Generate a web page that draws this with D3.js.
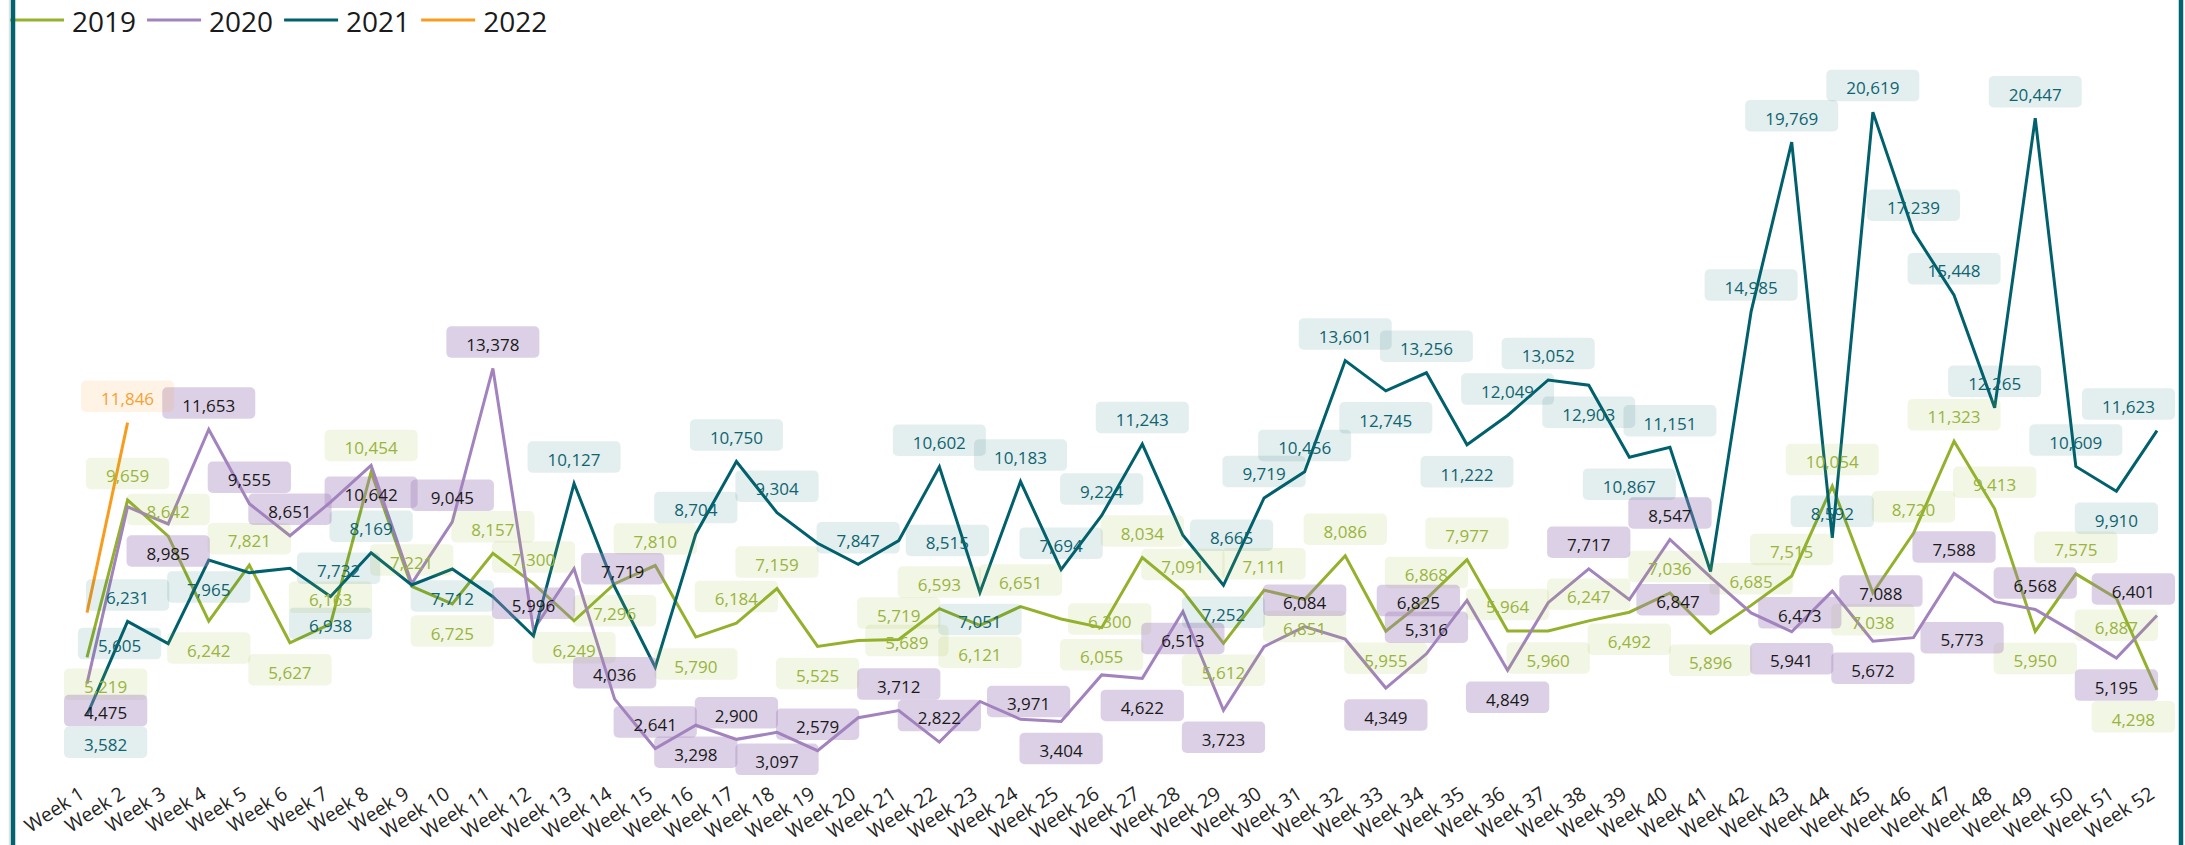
<!DOCTYPE html>
<html>
<head>
<meta charset="utf-8">
<script src="https://cdn.jsdelivr.net/npm/d3@7"></script>
<style>
  body { margin: 0; background: #fff; }
  svg { display: block; font-family: 'Open Sans', 'Noto Sans', sans-serif; }
</style>
</head>
<body>
<svg id="chart"></svg>
<script>
// Categories
const weeks = [
  'Week 1', 'Week 2', 'Week 3', 'Week 4', 'Week 5', 'Week 6', 'Week 7', 'Week 8', 'Week 9', 'Week 10',
  'Week 11', 'Week 12', 'Week 13', 'Week 14', 'Week 15', 'Week 16', 'Week 17', 'Week 18', 'Week 19', 'Week 20',
  'Week 21', 'Week 22', 'Week 23', 'Week 24', 'Week 25', 'Week 26', 'Week 27', 'Week 28', 'Week 29', 'Week 30',
  'Week 31', 'Week 32', 'Week 33', 'Week 34', 'Week 35', 'Week 36', 'Week 37', 'Week 38', 'Week 39', 'Week 40',
  'Week 41', 'Week 42', 'Week 43', 'Week 44', 'Week 45', 'Week 46', 'Week 47', 'Week 48', 'Week 49', 'Week 50',
  'Week 51', 'Week 52'
];
const years = ['2019', '2020', '2021', '2022'];

// Weekly values per year
const sales2019 = [
  5219, 9659, 8642, 6242, 7821, 5627, 6163, 10454, 7221, 6725,
  8157, 7300, 6249, 7296, 7810, 5790, 6184, 7159, 5525, 5689,
  5719, 6593, 6121, 6651, 6300, 6055, 8034, 7091, 5612, 7111,
  6851, 8086, 5955, 6868, 7977, 5964, 5960, 6247, 6492, 7036,
  5896, 6685, 7515, 10054, 7038, 8720, 11323, 9413, 5950, 7575,
  6887, 4298
];
const sales2020 = [
  4475, 9470, 8985, 11653, 9555, 8651, 9600, 10642, 7300, 9045,
  13378, 5996, 7719, 4036, 2641, 3298, 2900, 3097, 2579, 3510,
  3712, 2822, 3971, 3465, 3404, 4720, 4622, 6513, 3723, 5520,
  6084, 5730, 4349, 5316, 6825, 4849, 6760, 7717, 6847, 8547,
  7480, 6473, 5941, 7088, 5672, 5773, 7588, 6790, 6568, 5900,
  5195, 6401
];
const sales2021 = [
  3582, 6231, 5605, 7965, 7610, 7732, 6938, 8169, 7260, 7712,
  6930, 5820, 10127, 7210, 4940, 8704, 10750, 9304, 8440, 7847,
  8515, 10602, 7051, 10183, 7694, 9224, 11243, 8665, 7252, 9719,
  10456, 13601, 12745, 13256, 11222, 12049, 13052, 12903, 10867, 11151,
  7640, 14985, 19769, 8592, 20619, 17239, 15448, 12265, 20447, 10609,
  9910, 11623
];
const sales2022 = [6480, 11846];

// Where each data label sits: a = above, b = below, l = left, r = right, - = hidden
const labelPos2019 = 'baababaaab' + 'aabbabaabr' + 'aabarbaaba' + 'babaaababa' + 'baaabaaaba' + 'bb';
const labelPos2020 = 'b-baaa-b-a' + 'aaraababa-' + 'aar-b-bbb-' + 'a-balb-ara' + '-rbrbra-a-' + 'ba';
const labelPos2021 = 'balb-rba-b' + '--a--aaa-a' + 'rabaaaarba' + 'aababaabba' + '-aaaaaaaaa' + 'ba';
const labelPos2022 = '-a';

const series = [
  { name: years[0], values: sales2019, pos: labelPos2019, color: '#93b12b', textColor: '#9ab43c', boxOpacity: 0.12 },
  { name: years[1], values: sales2020, pos: labelPos2020, color: '#a283be', textColor: '#1a1a1a', boxOpacity: 0.38 },
  { name: years[2], values: sales2021, pos: labelPos2021, color: '#00616d', textColor: '#0e6570', boxOpacity: 0.11 },
  { name: years[3], values: sales2022, pos: labelPos2022, color: '#f99c1e', textColor: '#f8a036', boxOpacity: 0.12 }
];

const width = 2185;
const height = 845;
const frame = '#00636e';

const svg = d3.select('#chart')
  .attr('width', width)
  .attr('height', height);

// Scales
const x = d3.scalePoint().domain(weeks).range([87, 2157]);
const y = d3.scaleLinear().domain([0, 22600]).range([842, 42]);

// X axis (no line, no ticks, rotated labels)
const xAxis = d3.axisBottom(x).tickSize(0).tickPadding(0);
const axisG = svg.append('g')
  .attr('class', 'x-axis')
  .attr('transform', 'translate(0,796)')
  .call(xAxis);
axisG.select('.domain').remove();
axisG.selectAll('text')
  .attr('x', -2)
  .attr('y', 0)
  .attr('dy', 0)
  .attr('transform', 'rotate(-33)')
  .attr('text-anchor', 'end')
  .attr('fill', '#252423')
  .style('font-size', '19.5px')
  .style('font-family', "'Open Sans', sans-serif");

// Lines
const line = d3.line()
  .x((d, i) => x(weeks[i]))
  .y(d => y(d));

svg.append('g')
  .selectAll('path')
  .data(series)
  .join('path')
  .attr('d', d => line(d.values))
  .attr('fill', 'none')
  .attr('stroke', d => d.color)
  .attr('stroke-width', 3)
  .attr('stroke-linejoin', 'miter');

// Data labels
const fmt = d3.format(',');
const labelLayer = svg.append('g').attr('class', 'labels');
const boxH = 31.5;
const minX = 64;
const maxX = 2175;

series.forEach(s => {
  s.values.forEach((v, i) => {
    const p = s.pos[i];
    if (!p || p === '-') return;
    const px = x(weeks[i]);
    const py = y(v);

    const g = labelLayer.append('g');
    const rect = g.append('rect');
    const txt = g.append('text')
      .text(fmt(v))
      .attr('text-anchor', 'middle')
      .attr('fill', s.textColor)
      .style('font-size', '17px');

    const tw = txt.node().getComputedTextLength();
    const bw = tw + 40;
    let cx = px;
    let cy = py;
    if (p === 'a') cy = py - 26.5;
    if (p === 'b') cy = py + 27;
    if (p === 'r') cx = px + 7 + bw / 2;
    if (p === 'l') cx = px - 7 - bw / 2;
    cx = Math.max(minX + bw / 2, Math.min(maxX - bw / 2, cx));

    rect
      .attr('x', cx - bw / 2)
      .attr('y', cy - boxH / 2)
      .attr('width', bw)
      .attr('height', boxH)
      .attr('rx', 5)
      .attr('fill', s.color)
      .attr('fill-opacity', s.boxOpacity);

    txt
      .attr('x', cx)
      .attr('y', cy + 8.8);
  });
});

// Legend
const legend = svg.append('g').attr('class', 'legend');
let lx = 10;
series.forEach(s => {
  legend.append('line')
    .attr('x1', lx)
    .attr('x2', lx + 54)
    .attr('y1', 20)
    .attr('y2', 20)
    .attr('stroke', s.color)
    .attr('stroke-width', 3);
  const t = legend.append('text')
    .attr('x', lx + 62)
    .attr('y', 31.5)
    .attr('fill', '#1a1a1a')
    .style('font-size', '28px')
    .text(s.name);
  lx += 62 + t.node().getComputedTextLength() + 11;
});

// Card frame
svg.append('line')
  .attr('x1', 9.5).attr('x2', 9.5)
  .attr('y1', 0).attr('y2', height)
  .attr('stroke', '#e2e2e2')
  .attr('stroke-width', 1.5);
svg.append('line')
  .attr('x1', 13).attr('x2', 13)
  .attr('y1', 0).attr('y2', height)
  .attr('stroke', frame)
  .attr('stroke-width', 4.5);
svg.append('line')
  .attr('x1', 2181).attr('x2', 2181)
  .attr('y1', 0).attr('y2', height)
  .attr('stroke', frame)
  .attr('stroke-width', 4.5);
</script>
</body>
</html>
